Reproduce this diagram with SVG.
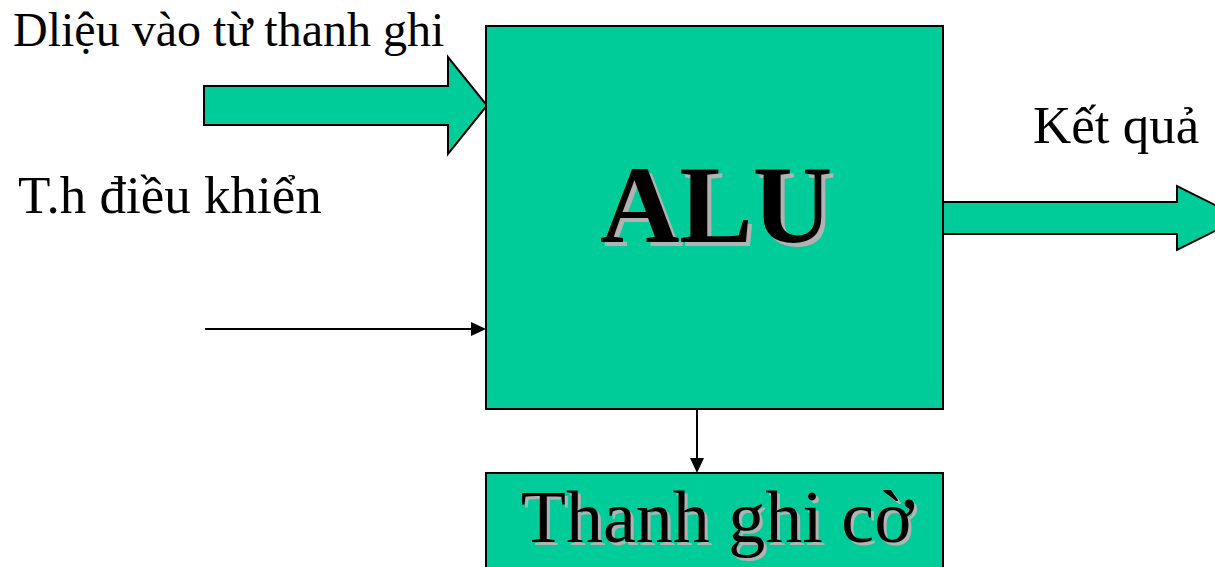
<svg xmlns="http://www.w3.org/2000/svg" width="1215" height="567" viewBox="0 0 1215 567">
  <style>
    .box { fill: #00cc99; stroke: #000; stroke-width: 2; }
    .label { font-family: "Liberation Serif", "DejaVu Serif", serif; fill: #000; }
    .shadow { fill: #b2b2b2; }
    .line { stroke: #000; stroke-width: 2; fill: none; }
  </style>
  <rect width="1215" height="567" fill="#fff"/>

  <g id="connectors">
    <!-- wide input arrow from registers -->
    <path class="box" d="M204,86 H448 V57 L487,105.5 L448,154 V125 H204 Z"/>
    <!-- wide result arrow -->
    <path class="box" d="M943,202 H1177 V186 L1241,218 L1177,250 V234 H943 Z"/>
    <!-- control signal -->
    <line x1="205" y1="329" x2="471" y2="329" class="line"/>
    <path d="M471,322 L486,329 L471,336 Z" fill="#000"/>
    <!-- flags output -->
    <line x1="697" y1="409" x2="697" y2="458" class="line"/>
    <path d="M690,458 L697,473 L704,458 Z" fill="#000"/>
  </g>

  <g id="alu">
    <rect class="box" x="486" y="26" width="457" height="383"/>
    <text class="label shadow" x="720" y="246" font-size="110" font-weight="bold" text-anchor="middle">ALU</text>
    <text class="label" x="716" y="242" font-size="110" font-weight="bold" text-anchor="middle">ALU</text>
  </g>

  <g id="flags">
    <rect class="box" x="486" y="473" width="457" height="100"/>
    <text class="label shadow" x="720" y="545" font-size="74" text-anchor="middle">Thanh ghi cờ</text>
    <text class="label" x="717" y="542" font-size="74" text-anchor="middle">Thanh ghi cờ</text>
  </g>

  <g id="labels">
    <text class="label" x="13" y="46" font-size="48">Dliệu vào từ thanh ghi</text>
    <text class="label" x="18" y="213" font-size="53">T.h điều khiển</text>
    <text class="label" x="1033" y="143" font-size="53">Kết quả</text>
  </g>
</svg>
